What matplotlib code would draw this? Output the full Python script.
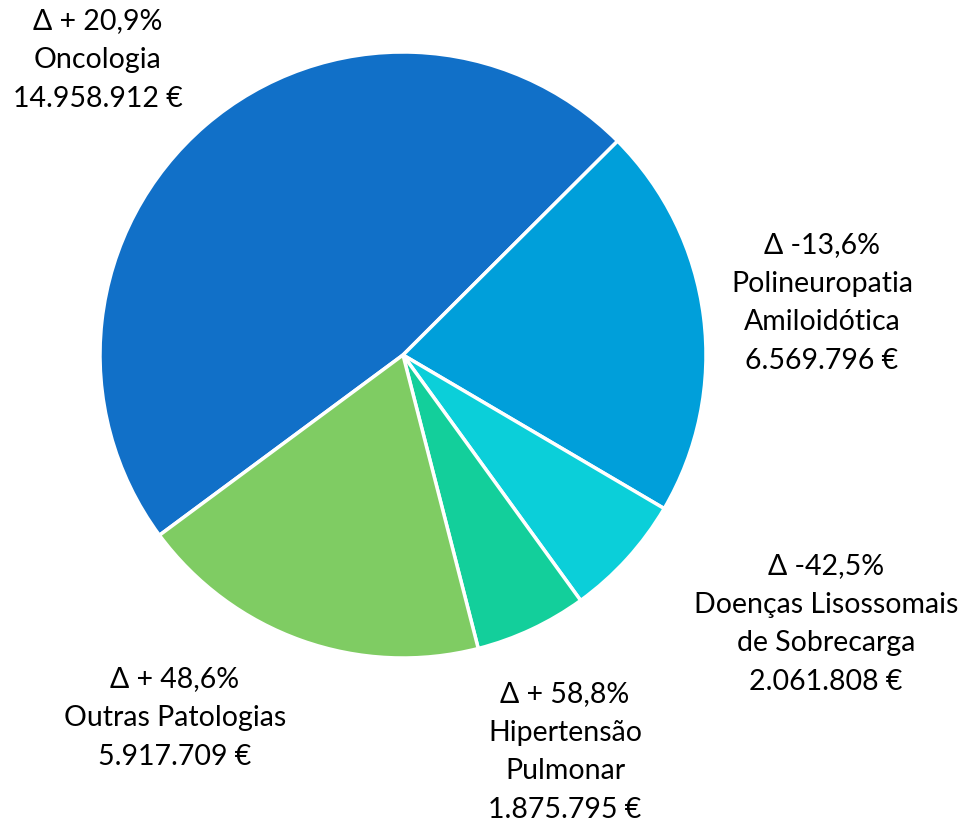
import matplotlib
matplotlib.use('Agg')
import matplotlib.pyplot as plt

# Data
categories = ['Oncologia', 'Polineuropatia\nAmiloidótica', 'Doenças Lisossomais\nde Sobrecarga',
              'Hipertensão\nPulmonar', 'Outras Patologias']
values = [14958912, 6569796, 2061808, 1875795, 5917709]
value_labels = ['14.958.912 €', '6.569.796 €', '2.061.808 €', '1.875.795 €', '5.917.709 €']
deltas = ['Δ + 20,9%', 'Δ -13,6%', 'Δ -42,5%', 'Δ + 58,8%', 'Δ + 48,6%']
colors = ['#1170C8', '#009FDA', '#0BCFD9', '#13CF9B', '#7FCC63']

# label centres in pixel coords (x, y from top)
label_pos = [(98, 60), (822, 303), (826, 624), (565, 752), (175, 718)]

W, H = 969, 826
fig = plt.figure(figsize=(W/100, H/100), dpi=100)
ax = fig.add_axes([0, 0, 1, 1])

cx, cy, r = 403, H-355, 303
ax.pie(values, colors=colors, startangle=216.5, counterclock=False,
       center=(cx, cy), radius=r, frame=True,
       wedgeprops=dict(edgecolor='white', linewidth=2.5))
ax.set_xlim(0, W)
ax.set_ylim(0, H)
ax.axis('off')

for i in range(len(categories)):
    txt = deltas[i] + '\n' + categories[i] + '\n' + value_labels[i]
    x, y = label_pos[i]
    ax.text(x, H-y, txt, ha='center', va='center', fontsize=20.5,
            family=['Lato', 'DejaVu Sans'], linespacing=1.6, color='black')

fig.savefig('out.png', dpi=100)
